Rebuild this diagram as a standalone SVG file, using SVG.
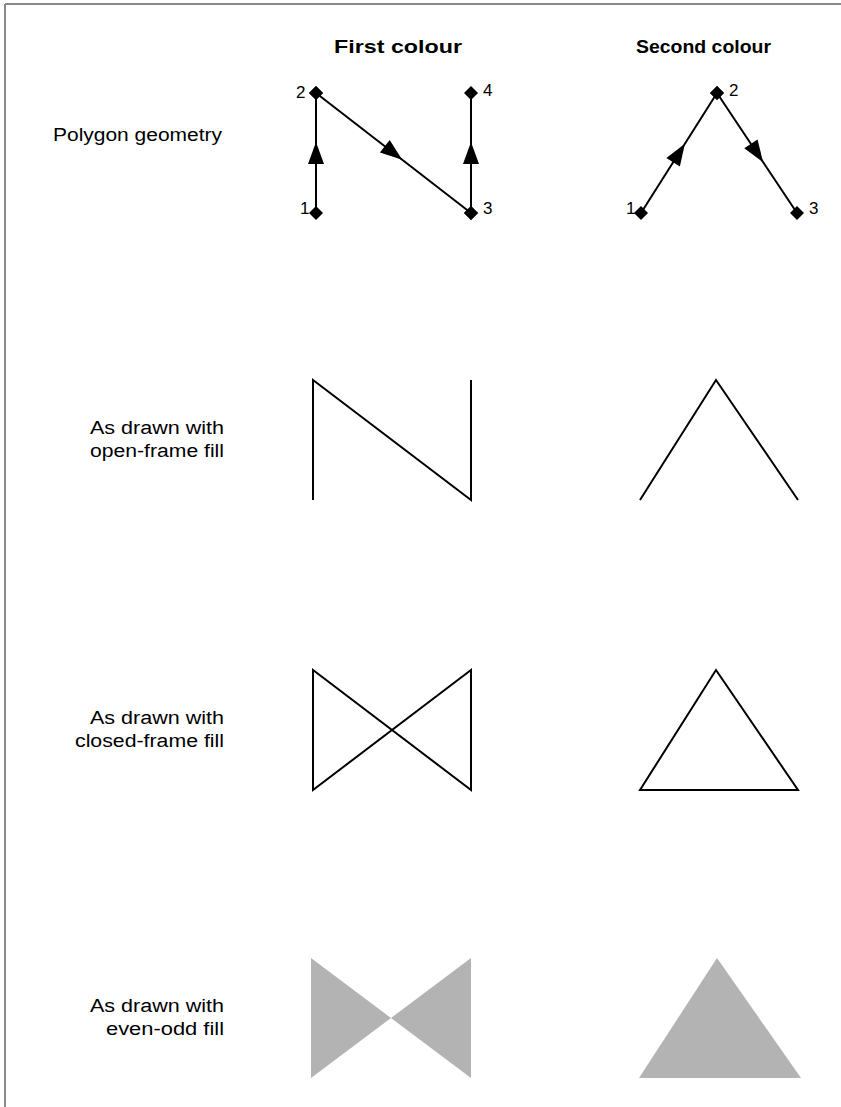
<svg xmlns="http://www.w3.org/2000/svg" width="841" height="1107" viewBox="0 0 841 1107">
<style>
.lbl{font-family:"Liberation Sans",Arial,sans-serif;font-size:18px;fill:#000}
.hdr{font-family:"Liberation Sans",Arial,sans-serif;font-size:18px;font-weight:bold;fill:#000}
.num{font-family:"Liberation Sans",Arial,sans-serif;font-size:17px;fill:#000}
.ln{fill:none;stroke:#000;stroke-width:2}
.geo{fill:none;stroke:#000;stroke-width:2;marker-start:url(#dot);marker-end:url(#dot);marker-mid:url(#arr)}
.eo{fill:#b3b3b3;stroke:none;fill-rule:evenodd}
</style>
<defs>
<marker id="dot" markerUnits="userSpaceOnUse" markerWidth="16" markerHeight="16" refX="8" refY="8" orient="0" overflow="visible">
<path d="M8,1 L15,8 L8,15 L1,8 Z" fill="#000"/>
</marker>
<marker id="arr" markerUnits="userSpaceOnUse" markerWidth="26" markerHeight="20" refX="11" refY="0" orient="auto" overflow="visible">
<path d="M0,-8 L22,0 L0,8 Z" fill="#000"/>
</marker>
</defs>
<rect width="841" height="1107" fill="#fff"/>
<g id="frame">
<path d="M5,4 H841 M5,4 V1107" fill="none" stroke="#8a8a8a" stroke-width="2"/>
</g>
<g id="headers">
<text class="hdr" x="334" y="53" textLength="128" lengthAdjust="spacingAndGlyphs">First colour</text>
<text class="hdr" x="636" y="53" textLength="135" lengthAdjust="spacingAndGlyphs">Second colour</text>
</g>
<g id="row-labels">
<text class="lbl" x="53" y="141" textLength="169" lengthAdjust="spacingAndGlyphs">Polygon geometry</text>
<text class="lbl" x="224" y="434" text-anchor="end" textLength="134" lengthAdjust="spacingAndGlyphs">As drawn with</text>
<text class="lbl" x="224" y="457" text-anchor="end" textLength="134" lengthAdjust="spacingAndGlyphs">open-frame fill</text>
<text class="lbl" x="224" y="724" text-anchor="end" textLength="134" lengthAdjust="spacingAndGlyphs">As drawn with</text>
<text class="lbl" x="224" y="747" text-anchor="end" textLength="149" lengthAdjust="spacingAndGlyphs">closed-frame fill</text>
<text class="lbl" x="224" y="1012" text-anchor="end" textLength="134" lengthAdjust="spacingAndGlyphs">As drawn with</text>
<text class="lbl" x="224" y="1035" text-anchor="end" textLength="118" lengthAdjust="spacingAndGlyphs">even-odd fill</text>
</g>
<g id="connectors">
<path class="geo" d="M316,213 L316,153 L316,93"/>
<path class="geo" d="M316,93 L393.5,153 L471,213"/>
<path class="geo" d="M471,213 L471,153 L471,93"/>
<path class="geo" d="M641,213 L679,153 L717,93"/>
<path class="geo" d="M717,93 L757,153 L797,213"/>
</g>
<g id="geometry-first">
<text class="num" x="296" y="98">2</text>
<text class="num" x="300" y="214">1</text>
<text class="num" x="483" y="214">3</text>
<text class="num" x="483" y="96">4</text>
</g>
<g id="geometry-second">
<text class="num" x="729" y="96">2</text>
<text class="num" x="626" y="214">1</text>
<text class="num" x="809" y="214">3</text>
</g>
<g id="open-first"><polyline class="ln" points="313,500 313,380 471,500 471,380"/></g>
<g id="open-second"><polyline class="ln" points="640,500 716,380 798,500"/></g>
<g id="closed-first"><polygon class="ln" points="313,790 313,670 471,790 471,670"/></g>
<g id="closed-second"><polygon class="ln" points="640,790 716,670 798,790"/></g>
<g id="evenodd-first"><polygon class="eo" points="311,1078 311,958 471,1078 471,958"/></g>
<g id="evenodd-second"><polygon class="eo" points="639,1078 717,958 801,1078"/></g>
</svg>
